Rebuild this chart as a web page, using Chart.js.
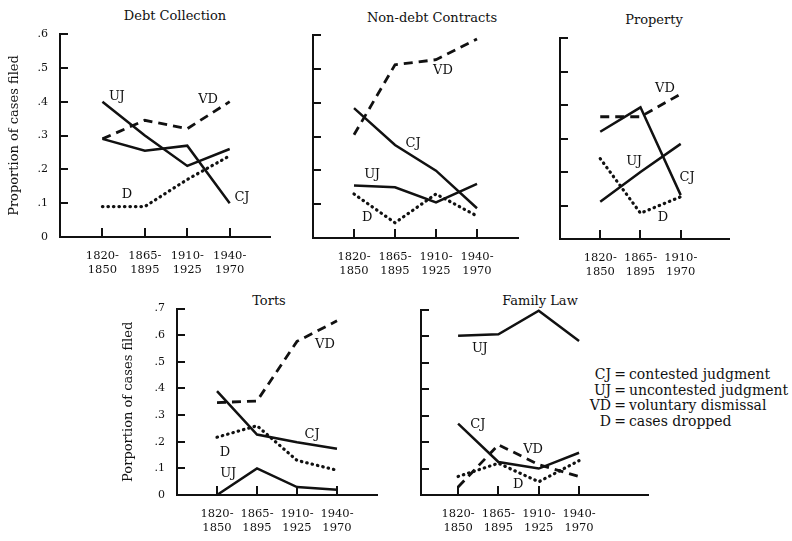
<!DOCTYPE html>
<html>
<head>
<meta charset="utf-8">
<script src="https://cdn.jsdelivr.net/npm/chart.js@4/dist/chart.umd.min.js"></script>
<style>
body { margin: 0; background: #fff; }
#page { position: relative; width: 792px; height: 541px; overflow: hidden; font-family: 'DejaVu Serif', serif; color: #111; }
canvas { position: absolute; }
.title { position: absolute; font-size: 13px; line-height: 15px; white-space: nowrap; transform: translateX(-50%); }
#key { position: absolute; left: 581px; top: 367px; font-size: 14px; line-height: 15.7px; white-space: nowrap; }
#key .ab { display: inline-block; width: 30px; text-align: right; }
#key .eq { display: inline-block; width: 18px; text-align: center; }
</style>
</head>
<body>
<div id="page">
  <div class="title" style="left:175px;top:8px">Debt Collection</div>
  <div class="title" style="left:432px;top:10px">Non-debt Contracts</div>
  <div class="title" style="left:654px;top:12px">Property</div>
  <div class="title" style="left:269px;top:293px">Torts</div>
  <div class="title" style="left:540px;top:293px">Family Law</div>
  <div id="key">
    <div><span class="ab">CJ</span><span class="eq">=</span>contested judgment</div>
    <div><span class="ab">UJ</span><span class="eq">=</span>uncontested judgment</div>
    <div><span class="ab">VD</span><span class="eq">=</span>voluntary dismissal</div>
    <div><span class="ab">D</span><span class="eq">=</span>cases dropped</div>
  </div>
  <canvas id="debt" width="300" height="300" style="left:0px;top:0px"></canvas>
  <canvas id="nondebt" width="275" height="300" style="left:273px;top:0px"></canvas>
  <canvas id="property" width="240" height="300" style="left:520px;top:0px"></canvas>
  <canvas id="torts" width="290" height="251" style="left:114px;top:290px"></canvas>
  <canvas id="family" width="300" height="251" style="left:381px;top:290px"></canvas>
</div>
<script>
// periods on the x axis
const periods4 = [['1820-', '1850'], ['1865-', '1895'], ['1910-', '1925'], ['1940-', '1970']];
const periods3 = [['1820-', '1850'], ['1865-', '1895'], ['1910-', '1970']];
const yLabels = ['0', '.1', '.2', '.3', '.4', '.5', '.6', '.7'];

// proportion of cases filed
const debtCJ = [0.29, 0.255, 0.27, 0.10];
const debtUJ = [0.40, 0.30, 0.21, 0.26];
const debtVD = [0.29, 0.345, 0.32, 0.40];
const debtD  = [0.09, 0.09, 0.17, 0.24];

const nondebtCJ = [0.384, 0.275, 0.199, 0.088];
const nondebtUJ = [0.155, 0.15, 0.105, 0.16];
const nondebtVD = [0.305, 0.512, 0.527, 0.588];
const nondebtD  = [0.13, 0.045, 0.13, 0.065];

const propertyCJ = [0.32, 0.393, 0.131];
const propertyUJ = [0.111, 0.20, 0.284];
const propertyVD = [0.365, 0.365, 0.433];
const propertyD  = [0.24, 0.077, 0.126];

const tortsCJ = [0.39, 0.227, 0.198, 0.174];
const tortsUJ = [0, 0.10, 0.03, 0.02];
const tortsVD = [0.347, 0.353, 0.577, 0.654];
const tortsD  = [0.217, 0.26, 0.13, 0.093];

const familyCJ = [0.27, 0.125, 0.10, 0.16];
const familyUJ = [0.603, 0.608, 0.697, 0.583];
const familyVD = [0.03, 0.19, 0.115, 0.07];
const familyD  = [0.07, 0.12, 0.05, 0.13];

const ink = '#111';
const serif = "'DejaVu Serif', serif";

const lineStyle = {
  CJ: { borderWidth: 2.5, borderDash: [] },
  UJ: { borderWidth: 2.5, borderDash: [] },
  VD: { borderWidth: 2.8, borderDash: [9, 6] },
  D:  { borderWidth: 3.2, borderDash: [0.5, 5], borderCapStyle: 'round' }
};

// short tick marks pointing into the plot
const innerTicks = {
  id: 'innerTicks',
  afterDatasetsDraw(chart) {
    const { ctx, chartArea: a, scales: { x, y } } = chart;
    ctx.save();
    ctx.strokeStyle = ink;
    ctx.lineWidth = 2;
    ctx.beginPath();
    y.ticks.forEach(t => {
      if (t.value === 0) return;
      const py = Math.round(y.getPixelForValue(t.value));
      ctx.moveTo(a.left, py);
      ctx.lineTo(a.left + 8, py);
    });
    x.ticks.forEach(t => {
      const px = Math.round(x.getPixelForValue(t.value));
      ctx.moveTo(px, a.bottom);
      ctx.lineTo(px, a.bottom - 9);
    });
    ctx.stroke();
    ctx.restore();
  }
};

// series names written next to their lines
const seriesTags = {
  id: 'seriesTags',
  afterDatasetsDraw(chart, args, opts) {
    const { ctx, scales: { x, y } } = chart;
    ctx.save();
    ctx.font = '13px ' + serif;
    ctx.fillStyle = ink;
    ctx.textAlign = 'center';
    ctx.textBaseline = 'middle';
    Object.entries(opts.items || {}).forEach(([name, p]) => {
      ctx.fillText(name, x.getPixelForValue(p[0]), y.getPixelForValue(p[1]));
    });
    ctx.restore();
  }
};

function makePanel(id, cfg) {
  const datasets = Object.entries(cfg.series).map(([name, values]) => ({
    label: name,
    data: values.map((v, i) => ({ x: i + 1, y: v })),
    borderColor: ink,
    pointRadius: 0,
    tension: 0,
    clip: 6,
    ...lineStyle[name]
  }));
  return new Chart(document.getElementById(id), {
    type: 'line',
    data: { datasets },
    plugins: [innerTicks, seriesTags],
    options: {
      responsive: false,
      animation: false,
      layout: { padding: { top: cfg.padTop, right: cfg.padRight, left: 0, bottom: 0 } },
      plugins: {
        legend: { display: false },
        tooltip: { enabled: false },
        seriesTags: { items: cfg.tags }
      },
      scales: {
        x: {
          type: 'linear',
          min: cfg.xMin,
          max: cfg.xMax,
          afterBuildTicks: s => { s.ticks = cfg.periods.map((p, i) => ({ value: i + 1 })); },
          afterFit: s => { s.height = cfg.xh; },
          ticks: {
            autoSkip: false,
            maxRotation: 0,
            padding: 12,
            color: ink,
            font: { family: serif, size: 11.5, lineHeight: 1.2 },
            callback: (v, i) => cfg.periods[i]
          },
          grid: { drawOnChartArea: false, drawTicks: false },
          border: { color: ink, width: 2 }
        },
        y: {
          min: 0,
          max: cfg.yMax,
          afterFit: s => { s.width = cfg.yw; },
          ticks: {
            stepSize: 0.1,
            display: cfg.yTicks,
            padding: 12,
            color: ink,
            font: { family: serif, size: 11 },
            callback: v => yLabels[Math.round(v * 10)]
          },
          title: {
            display: !!cfg.yTitle,
            text: cfg.yTitle || '',
            color: ink,
            font: { family: serif, size: 13 },
            padding: { top: 7, bottom: 0 }
          },
          grid: { drawOnChartArea: false, drawTicks: false },
          border: { color: ink, width: 2 }
        }
      }
    }
  });
}

makePanel('debt', {
  periods: periods4, xMin: 0, xMax: 4.95, yMax: 0.6, yw: 60, xh: 63, padTop: 34, padRight: 30,
  yTicks: true, yTitle: 'Proportion of cases filed',
  series: { CJ: debtCJ, UJ: debtUJ, VD: debtVD, D: debtD },
  tags: { UJ: [1.34, 0.415], VD: [3.49, 0.406], D: [1.58, 0.125], CJ: [4.29, 0.116] }
});

makePanel('nondebt', {
  periods: periods4, xMin: 0, xMax: 5, yMax: 0.6, yw: 40, xh: 62, padTop: 35, padRight: 30,
  yTicks: false,
  series: { CJ: nondebtCJ, UJ: nondebtUJ, VD: nondebtVD, D: nondebtD },
  tags: { VD: [3.17, 0.494], CJ: [2.44, 0.28], UJ: [1.44, 0.186], D: [1.32, 0.06] }
});

makePanel('property', {
  periods: periods3, xMin: 0, xMax: 4.2, yMax: 0.6, yw: 40, xh: 61, padTop: 38, padRight: 31,
  yTicks: false,
  series: { CJ: propertyCJ, UJ: propertyUJ, VD: propertyVD, D: propertyD },
  tags: { VD: [2.61, 0.448], UJ: [1.84, 0.23], CJ: [3.16, 0.182], D: [2.56, 0.063] }
});

makePanel('torts', {
  periods: periods4, xMin: 0, xMax: 5, yMax: 0.7, yw: 63, xh: 46, padTop: 17, padRight: 27,
  yTicks: true, yTitle: 'Porportion of cases filed',
  series: { CJ: tortsCJ, UJ: tortsUJ, VD: tortsVD, D: tortsD },
  tags: { VD: [3.7, 0.566], CJ: [3.38, 0.227], D: [1.2, 0.16], UJ: [1.28, 0.082] }
});

makePanel('family', {
  periods: periods4, xMin: 0.08, xMax: 5.71, yMax: 0.7, yw: 40, xh: 46, padTop: 20, padRight: 33,
  yTicks: false,
  series: { CJ: familyCJ, UJ: familyUJ, VD: familyVD, D: familyD },
  tags: { UJ: [1.54, 0.552], CJ: [1.49, 0.265], VD: [2.86, 0.17], D: [2.49, 0.038] }
});
</script>
</body>
</html>
